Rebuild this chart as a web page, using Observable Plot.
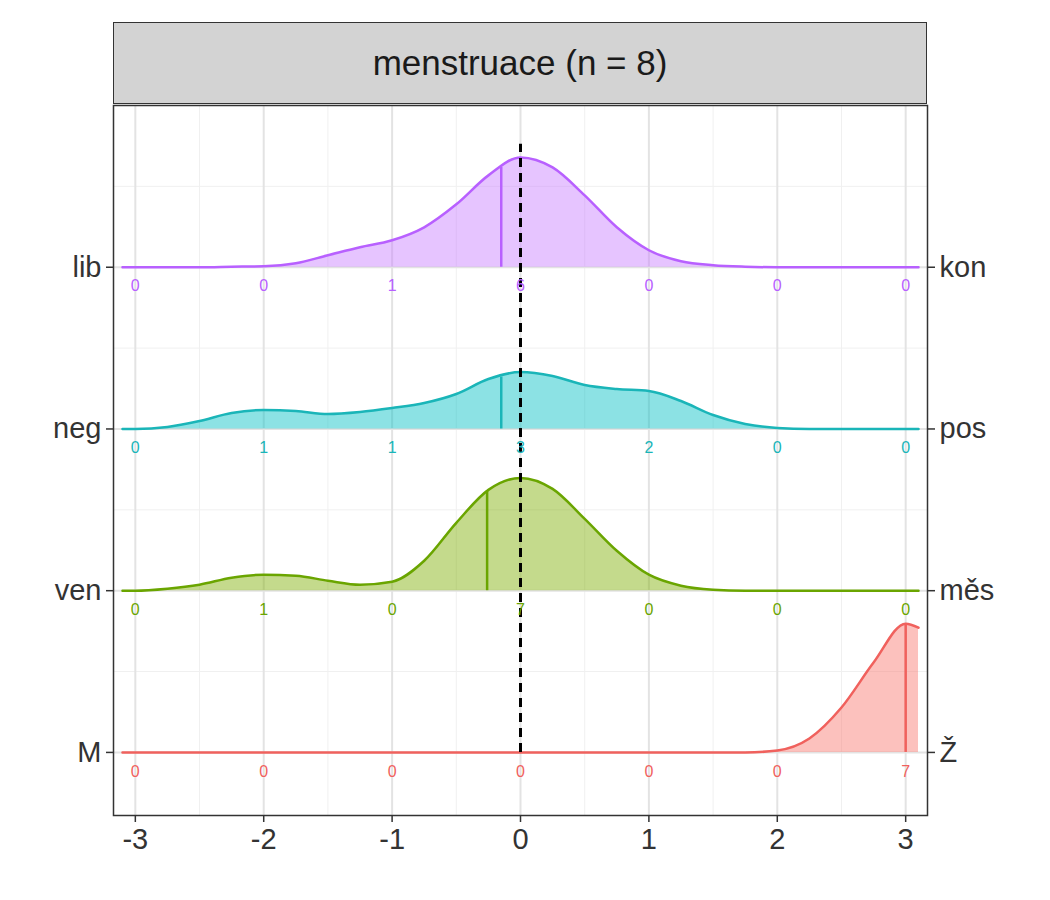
<!DOCTYPE html>
<html>
<head>
<meta charset="utf-8">
<script src="https://cdn.jsdelivr.net/npm/d3@7"></script>
<script src="https://cdn.jsdelivr.net/npm/@observablehq/plot@0.6"></script>
<style>
  body { margin: 0; background: white; font-family: Arial, "Liberation Sans", sans-serif; }
  #wrap { position: relative; width: 1050px; height: 900px; }
  #strip { position: absolute; left: 113px; top: 22px; width: 812px; height: 80px;
    background: #d3d3d3; border: 1.5px solid #333; display: flex; align-items: center;
    justify-content: center; font-size: 35px; color: #1a1a1a; }
</style>
</head>
<body>
<div id="wrap"><div id="chart"></div><div id="strip">menstruace (n = 8)</div></div>
<script>
/* Var. globales */
const rows = ["M", "ven", "neg", "lib"]
const rightLabels = ["Ž", "měs", "pos", "kon"]
const colors = ["#F0615D", "#6AA500", "#1AB5B8", "#B860FF"]
const fills = ["#F8766D", "#7CAE00", "#00BFC4", "#C77CFF"]
const xs = [-3.1, -3, -2.75, -2.5, -2.25, -2, -1.75, -1.5, -1.25, -1, -0.75, -0.5, -0.25, 0,
  0.25, 0.5, 0.75, 1, 1.25, 1.5, 1.75, 2, 2.25, 2.5, 2.75, 3, 3.1]
// density heights in px, 162 px = 1 row
const dens = {
  lib: [0, 0, 0, 0, 0.5, 1, 4, 12, 20, 27, 40, 63, 92, 110, 100, 72, 40, 17, 6, 2, 0.5, 0, 0, 0, 0, 0, 0],
  neg: [0, 0, 2, 8, 16, 19, 18, 15, 17, 21, 26, 35, 50, 57, 53, 44, 40, 38, 28, 14, 5, 1, 0, 0, 0, 0, 0],
  ven: [0, 0, 2, 6, 13, 16, 15, 10, 6, 9, 30, 68, 101, 113, 102, 72, 40, 16, 5, 1, 0, 0, 0, 0, 0, 0, 0],
  M:   [0, 0, 0, 0, 0, 0, 0, 0, 0, 0, 0, 0, 0, 0, 0, 0, 0, 0, 0, 0, 0, 2, 14, 45, 90, 129, 125]
}
const medians = {lib: -0.15, neg: -0.15, ven: -0.26, M: 3}
const medianH = {lib: 100, neg: 52, ven: 100, M: 129}
const countX = [-3, -2, -1, 0, 1, 2, 3]
const counts = {
  lib: [0, 0, 1, 6, 0, 0, 0],
  neg: [0, 1, 1, 3, 2, 0, 0],
  ven: [0, 1, 0, 7, 0, 0, 0],
  M:   [0, 0, 0, 0, 0, 0, 7]
}

const curves = []
rows.forEach((r, i) => xs.forEach((x, j) => curves.push({row: r, i, x, base: i + 1, top: i + 1 + dens[r][j] / 162})))
const meds = rows.map((r, i) => ({row: r, i, x: medians[r], base: i + 1, top: i + 1 + medianH[r] / 162}))
const cnt = []
rows.forEach((r, i) => countX.forEach((x, j) => cnt.push({row: r, i, x, y: i + 1, n: counts[r][j]})))

const marks = [
  Plot.gridX([-2.5, -1.5, -0.5, 0.5, 1.5, 2.5], {stroke: "#f0f0f0", strokeOpacity: 1, strokeWidth: 1}),
  Plot.gridY([1.5, 2.5, 3.5, 4.5], {stroke: "#f0f0f0", strokeOpacity: 1, strokeWidth: 1}),
  Plot.gridX([-3, -2, -1, 0, 1, 2, 3], {stroke: "#e3e3e3", strokeOpacity: 1, strokeWidth: 2}),
  Plot.gridY([1, 2, 3, 4], {stroke: "#e3e3e3", strokeOpacity: 1, strokeWidth: 2})
]
for (let i = rows.length - 1; i >= 0; i--) {
  const d = curves.filter(c => c.i === i)
  marks.push(
    Plot.areaY(d, {x: "x", y1: "base", y2: "top", fill: fills[i], fillOpacity: 0.45, curve: "monotone-x"}),
    Plot.lineY(d, {x: "x", y: "top", stroke: colors[i], strokeWidth: 2.5, curve: "monotone-x"}),
    Plot.ruleX(meds.filter(m => m.i === i), {x: "x", y1: "base", y2: "top", stroke: colors[i], strokeWidth: 2.5})
  )
}
marks.push(
  Plot.ruleX([0], {y1: 1, y2: 4.76, stroke: "black", strokeWidth: 3, strokeDasharray: "9,6"}),
  Plot.text(cnt, {x: "x", y: "y", text: "n", dy: 19, fill: d => colors[d.i], fontSize: 16}),
  Plot.frame({stroke: "#333", strokeWidth: 1.5}),
  Plot.axisX([-3, -2, -1, 0, 1, 2, 3], {tickSize: 7, tickPadding: 6, fontSize: 29, color: "#333", strokeWidth: 1.5, tickFormat: d => String(d).replace("−", "-"), label: null}),
  Plot.axisY([1, 2, 3, 4], {anchor: "left", tickSize: 7, tickPadding: 5, fontSize: 29, color: "#333", strokeWidth: 1.5, tickFormat: d => rows[d - 1], label: null}),
  Plot.axisY([1, 2, 3, 4], {anchor: "right", tickSize: 7, tickPadding: 5, fontSize: 29, color: "#333", strokeWidth: 1.5, tickFormat: d => rightLabels[d - 1], label: null})
)

const chart = Plot.plot({
  width: 1050,
  height: 900,
  marginLeft: 113,
  marginRight: 123,
  marginTop: 105,
  marginBottom: 85,
  x: {domain: [-3.17, 3.17]},
  y: {domain: [0.61, 5.0]},
  style: {fontFamily: "Arial, 'Liberation Sans', sans-serif", background: "white"},
  marks
})
d3.select('#chart').append(() => chart)
</script>
</body>
</html>
